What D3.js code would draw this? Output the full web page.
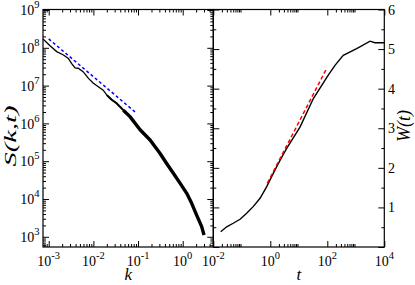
<!DOCTYPE html>
<html><head><meta charset="utf-8">
<script src="https://cdn.jsdelivr.net/npm/d3@7"></script>
<style>body{margin:0;background:#fff}svg{display:block}text{font-family:"Liberation Serif","Times New Roman",serif}</style>
</head><body>
<svg id="c" width="415" height="285"></svg>
<script>
// ---- data ----
const sK = [7.45e-4,1.07e-3,1.51e-3,2.14e-3,2.75e-3,3.24e-3,3.89e-3,4.57e-3,5.89e-3,7.76e-3,1.0e-2,1.29e-2,1.66e-2,2.0e-2,2.57e-2,3.31e-2,4.68e-2,6.6e-2,0.111,0.186,0.309,0.437,0.617,0.871,1.23,1.58,2.04,2.66,3.0];
const sVal = [1.71e8,1.14e8,7.94e7,6.46e7,5.25e7,3.89e7,2.95e7,2.88e7,2.34e7,1.55e7,1.15e7,9.3e6,7.6e6,5.6e6,4.2e6,3.4e6,2.24e6,1.51e6,6.8e5,3.63e5,1.62e5,8.7e4,4.8e4,2.63e4,1.41e4,7.8e3,3.8e3,1.86e3,1.12e3];
const blueK = [1e-3, 0.093];
const blueS = [1.72e8, 1.85e6];
const wT = [0.0182,0.0295,0.050,0.087,0.148,0.251,0.437,0.741,1.27,2.19,3.76,11.0,32.4,108,186,363,1072,3162,4677,6918,10000];
const wVal = [0.386,0.51,0.60,0.70,0.85,1.02,1.23,1.52,1.86,2.19,2.49,3.03,3.75,4.34,4.59,4.84,5.01,5.20,5.16,5.16,5.16];
const redT = [0.785, 90];
const redW = [1.61, 4.48];
const kMajor = [1e-3,1e-2,1e-1,1e0];
const kLabels = ["-3","-2","-1","0"];
const sMajor = [1e3,1e4,1e5,1e6,1e7,1e8,1e9];
const sLabels = ["3","4","5","6","7","8","9"];
const tMajor = [1e-2,1e0,1e2,1e4];
const tLabels = ["-2","0","2","4"];
const wMajor = [0,1,2,3,4,5,6];
const wLabels = ["","1","2","3","4","5","6"];

// ---- layout ----
const svg = d3.select("#c");
const yTop = 9.5, yBot = 247, L0 = 43, L1 = 213.3, R1 = 384.3;
const xk = d3.scaleLog().domain([Math.pow(10,-3.128), Math.pow(10,0.685)]).range([L0, L1]);
const ys = d3.scaleLog().domain([Math.pow(10,2.73), 1e9]).range([yBot, yTop+0.5]);
const xt = d3.scaleLog().domain([1e-2, 1e4]).range([L1, R1]);
const yw = d3.scaleLinear().domain([0, 6]).range([yBot, yTop]);

function logMinor(scale){
  const d = scale.domain(); const out=[];
  for (let e=-6;e<=10;e++){ for(let m=2;m<=9;m++){ const v=m*Math.pow(10,e); if(v>=d[0]&&v<=d[1]) out.push(v);} }
  return out;
}
function minorFromMajor(scale, majors){
  const d = scale.domain(); const out=[];
  majors.forEach(M=>{ for(let m=2;m<=9;m++){const v=M*m; if(v>=d[0]&&v<=d[1]) out.push(v);} });
  return out;
}
function drawAxis(axisFn, scale, vals, size, transform){
  const a = axisFn(scale).tickValues(vals).tickSizeInner(-size).tickSizeOuter(0).tickFormat("");
  const gg = svg.append("g").attr("transform", transform).call(a);
  gg.select(".domain").remove();
  gg.selectAll("line").attr("stroke","#000").attr("stroke-width",1);
}
const MAJ=6, MIN=3;
// left panel ticks
const kMin = logMinor(xk), sMin = logMinor(ys);
[[d3.axisBottom, `translate(0,${yBot})`],[d3.axisTop, `translate(0,${yTop})`]].forEach(([f,tr])=>{
  drawAxis(f, xk, kMajor, MAJ, tr); drawAxis(f, xk, kMin, MIN, tr);
});
[[d3.axisLeft, `translate(${L0},0)`],[d3.axisRight, `translate(${L1},0)`]].forEach(([f,tr])=>{
  drawAxis(f, ys, sMajor, MAJ, tr); drawAxis(f, ys, sMin, MIN, tr);
});
// right panel ticks
const tMin = minorFromMajor(xt, tMajor);
[[d3.axisBottom, `translate(0,${yBot})`],[d3.axisTop, `translate(0,${yTop})`]].forEach(([f,tr])=>{
  drawAxis(f, xt, tMajor, MAJ, tr); drawAxis(f, xt, tMin, MIN, tr);
});
const wMin = d3.range(0.5, 6, 1);
[[d3.axisLeft, `translate(${L1},0)`],[d3.axisRight, `translate(${R1},0)`]].forEach(([f,tr])=>{
  drawAxis(f, yw, wMajor, MAJ, tr); drawAxis(f, yw, wMin, MIN, tr);
});

// frames
svg.append("rect").attr("x",L0).attr("y",yTop).attr("width",L1-L0).attr("height",yBot-yTop).attr("fill","none").attr("stroke","#000").attr("stroke-width",1.2);
svg.append("rect").attr("x",L1).attr("y",yTop).attr("width",R1-L1).attr("height",yBot-yTop).attr("fill","none").attr("stroke","#000").attr("stroke-width",1.2);

// curves
const sPts = sK.map((k,i)=>[k,sVal[i]]);
const lineS = d3.line().x(d=>xk(d[0])).y(d=>ys(d[1]));
svg.append("path").attr("d", lineS(sPts)).attr("fill","none").attr("stroke","#000").attr("stroke-width",1.3);
svg.append("path").attr("d", lineS(sPts.filter(d=>d[0]>=0.02 && d[0]<0.05))).attr("fill","none").attr("stroke","#000").attr("stroke-width",2);
svg.append("path").attr("d", lineS(sPts.filter(d=>d[0]>=0.045))).attr("fill","none").attr("stroke","#000").attr("stroke-width",3.4).attr("stroke-linejoin","round");
svg.append("path").attr("d", lineS(blueK.map((k,i)=>[k,blueS[i]]))).attr("fill","none").attr("stroke","#0000ff").attr("stroke-width",1.5).attr("stroke-dasharray","3,2.5");

const lineW = d3.line().x(d=>xt(d[0])).y(d=>yw(d[1]));
svg.append("path").attr("d", lineW(wT.map((t,i)=>[t,wVal[i]]))).attr("fill","none").attr("stroke","#000").attr("stroke-width",1.4);
svg.append("path").attr("d", lineW(redT.map((t,i)=>[t,redW[i]]))).attr("fill","none").attr("stroke","#ff0000").attr("stroke-width",1.5).attr("stroke-dasharray","4,2.5");

// labels
function powLabel(x, y, exp, anchor){
  const t = svg.append("text").attr("x",x).attr("y",y).attr("text-anchor",anchor)
    .style("font-size","14px").attr("fill","#000");
  t.append("tspan").text("10");
  t.append("tspan").attr("dy",-7).style("font-size","10.5px").text(exp);
}
kMajor.forEach((v,i)=>powLabel(xk(v), 266, kLabels[i], "middle"));
tMajor.forEach((v,i)=>powLabel(xt(v), 266, tLabels[i], "middle"));
sMajor.forEach((v,i)=>powLabel(39.5, ys(v)+5.3, sLabels[i], "end"));
wMajor.forEach((v,i)=>{ if(!wLabels[i]) return;
  svg.append("text").attr("x",388).attr("y",yw(v)+5).style("font-size","14px").text(wLabels[i]); });

svg.append("text").attr("x",(L0+L1)/2).attr("y",279.5).attr("text-anchor","middle").style("font-style","italic").style("font-size","17px").text("k");
svg.append("text").attr("x",(L1+R1)/2).attr("y",279.5).attr("text-anchor","middle").style("font-style","italic").style("font-size","17px").text("t");
svg.append("text").attr("transform","translate(15.5,136) rotate(-90)").attr("text-anchor","middle").style("font-style","italic").style("font-size","16px")
  .attr("textLength",61).attr("lengthAdjust","spacingAndGlyphs").text("S(k,t)");
svg.append("text").attr("transform","translate(410,126) rotate(-90)").attr("text-anchor","middle").style("font-style","italic").style("font-size","18px").text("W(t)");
</script>
</body></html>
